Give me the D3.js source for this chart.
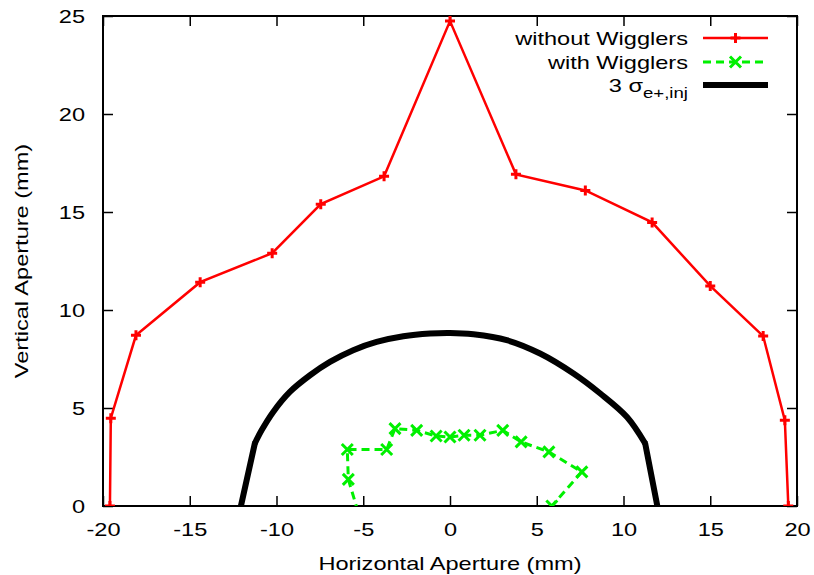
<!DOCTYPE html>
<html>
<head>
<meta charset="utf-8">
<script src="https://cdn.jsdelivr.net/npm/d3@7"></script>
<style>
  body { margin: 0; background: #fff; }
  text { font-family: "Liberation Sans", Arial, sans-serif; fill: #000; }
</style>
</head>
<body>
<svg id="chart" width="814" height="575"></svg>
<script>
// aperture without wigglers (mm)
var noWigX = [-19.6, -19.55, -18.1, -14.4, -10.25, -7.45, -3.8, 0.0, 3.8, 7.8, 11.65, 15.0, 18.05, 19.3, 19.5];
var noWigY = [0, 4.48, 8.71, 11.42, 12.9, 15.4, 16.82, 24.74, 16.92, 16.1, 14.47, 11.23, 8.67, 4.37, 0];

// aperture with wigglers (first point sits just below the axis)
var wigX = [-5.3, -5.86, -5.92, -3.65, -3.17, -1.92, -0.8, 0.0, 0.81, 1.73, 3.04, 4.1, 5.7, 7.6, 5.87];
var wigY = [-0.3, 1.36, 2.88, 2.88, 3.95, 3.86, 3.57, 3.52, 3.61, 3.61, 3.86, 3.27, 2.76, 1.74, 0];

// 3 sigma injected beam envelope
var sigX = [-12.05, -11.25, -10.86, -10.19, -9.23, -8.07, -6.92, -5.58, -4.23, -2.69, -1.15, 0, 1.35, 3.27, 5.19, 7.12, 8.66, 10.2, 11.25, 11.95];
var sigY = [0, 3.19, 3.86, 4.8, 5.82, 6.67, 7.35, 7.95, 8.37, 8.66, 8.8, 8.83, 8.76, 8.46, 7.78, 6.76, 5.74, 4.54, 3.19, 0];

var xTicks = [-20, -15, -10, -5, 0, 5, 10, 15, 20];
var yTicks = [0, 5, 10, 15, 20, 25];

var W = 814, H = 575;
var margin = {top: 16, right: 17, bottom: 69, left: 103};
var svg = d3.select("#chart");
var stretch = 1.24; // the original font is wider than Liberation Sans

var x = d3.scaleLinear().domain([-20, 20]).range([margin.left, W - margin.right]);
var y = d3.scaleLinear().domain([0, 25]).range([H - margin.bottom, margin.top]);

function zip(xs, ys) {
  return xs.map(function(v, i) { return [v, ys[i]]; });
}
function widen(sel) {
  sel.each(function() {
    var w = this.getComputedTextLength();
    d3.select(this).attr("textLength", w * stretch).attr("lengthAdjust", "spacingAndGlyphs");
  });
}

var line = d3.line().x(function(d) { return x(d[0]); }).y(function(d) { return y(d[1]); });
var smooth = d3.line().curve(d3.curveCatmullRom.alpha(0.5)).x(function(d) { return x(d[0]); }).y(function(d) { return y(d[1]); });

svg.append("clipPath").attr("id", "plotclip")
  .append("rect")
  .attr("x", margin.left).attr("y", margin.top)
  .attr("width", W - margin.left - margin.right)
  .attr("height", H - margin.top - margin.bottom);

// axes, with ticks mirrored on top and right
var tickLen = 10;
var fmt = function(d) { return String(d); };
svg.append("g").attr("transform", "translate(0," + y(0) + ")")
  .call(d3.axisBottom(x).tickValues(xTicks).tickFormat(fmt).tickSizeInner(-tickLen).tickSizeOuter(0).tickPadding(17));
svg.append("g").attr("transform", "translate(0," + y(25) + ")")
  .call(d3.axisTop(x).tickValues(xTicks).tickSizeInner(-tickLen).tickSizeOuter(0).tickFormat(""));
svg.append("g").attr("transform", "translate(" + x(-20) + ",0)")
  .call(d3.axisLeft(y).tickValues(yTicks).tickFormat(fmt).tickSizeInner(-tickLen).tickSizeOuter(0).tickPadding(18));
svg.append("g").attr("transform", "translate(" + x(20) + ",0)")
  .call(d3.axisRight(y).tickValues(yTicks).tickSizeInner(-tickLen).tickSizeOuter(0).tickFormat(""));

svg.selectAll(".domain").remove();
svg.selectAll(".tick line").attr("stroke", "#000").attr("stroke-width", 1.5);
svg.selectAll(".tick text").style("font-size", "19px").attr("fill", "#000").call(widen);

svg.append("rect")
  .attr("x", x(-20)).attr("y", y(25))
  .attr("width", x(20) - x(-20)).attr("height", y(0) - y(25))
  .attr("fill", "none").attr("stroke", "#000").attr("stroke-width", 2);

var plot = svg.append("g").attr("clip-path", "url(#plotclip)");

function plus(g, px, py, color) {
  g.append("path").attr("d", "M" + (px - 5) + "," + py + "H" + (px + 5) + "M" + px + "," + (py - 5) + "V" + (py + 5))
    .attr("stroke", color).attr("stroke-width", 3).attr("fill", "none");
}
function cross(g, px, py, color) {
  g.append("path").attr("d", "M" + (px - 5.5) + "," + (py - 5.5) + "L" + (px + 5.5) + "," + (py + 5.5) + "M" + (px - 5.5) + "," + (py + 5.5) + "L" + (px + 5.5) + "," + (py - 5.5))
    .attr("stroke", color).attr("stroke-width", 3).attr("fill", "none");
}

// 3 sigma curve: straight feet, smooth crown
var sig = zip(sigX, sigY);
var n = sig.length;
plot.append("path").datum(sig.slice(1, n - 1)).attr("d", smooth)
  .attr("fill", "none").attr("stroke", "#000").attr("stroke-width", 6).attr("stroke-linejoin", "round");
plot.append("path").datum(sig.slice(0, 2)).attr("d", line)
  .attr("fill", "none").attr("stroke", "#000").attr("stroke-width", 6).attr("stroke-linecap", "round");
plot.append("path").datum(sig.slice(n - 2)).attr("d", line)
  .attr("fill", "none").attr("stroke", "#000").attr("stroke-width", 6).attr("stroke-linecap", "round");

// without wigglers
var red = "#ff0000";
plot.append("path").datum(zip(noWigX, noWigY)).attr("d", line)
  .attr("fill", "none").attr("stroke", red).attr("stroke-width", 2.5);
zip(noWigX, noWigY).forEach(function(d) { plus(plot, x(d[0]), y(d[1]), red); });

// with wigglers
var green = "#00f000";
plot.append("path").datum(zip(wigX, wigY)).attr("d", line)
  .attr("fill", "none").attr("stroke", green).attr("stroke-width", 3).attr("stroke-dasharray", "8,5");
zip(wigX, wigY).forEach(function(d) { if (d[1] >= 0) cross(plot, x(d[0]), y(d[1]), green); });

// axis titles
svg.append("text").attr("x", (x(-20) + x(20)) / 2).attr("y", 570)
  .attr("text-anchor", "middle").style("font-size", "19px").text("Horizontal Aperture (mm)").call(widen);
svg.append("text").attr("transform", "translate(28," + ((y(0) + y(25)) / 2) + ") rotate(-90)")
  .attr("text-anchor", "middle").style("font-size", "19px").text("Vertical Aperture (mm)").call(widen);

// legend
var legend = svg.append("g");
var lx0 = 703, lx1 = 768, tx = 688;
var rows = [38, 62, 85];
legend.append("text").attr("x", tx).attr("y", rows[0] + 7).attr("text-anchor", "end").style("font-size", "19px").text("without Wigglers").call(widen);
legend.append("line").attr("x1", lx0).attr("x2", lx1).attr("y1", rows[0]).attr("y2", rows[0]).attr("stroke", red).attr("stroke-width", 2.5);
plus(legend, (lx0 + lx1) / 2, rows[0], red);

legend.append("text").attr("x", tx).attr("y", rows[1] + 7).attr("text-anchor", "end").style("font-size", "19px").text("with Wigglers").call(widen);
legend.append("line").attr("x1", lx0).attr("x2", lx1).attr("y1", rows[1]).attr("y2", rows[1]).attr("stroke", green).attr("stroke-width", 3).attr("stroke-dasharray", "8,5");
cross(legend, (lx0 + lx1) / 2, rows[1], green);

var sigText = legend.append("text").attr("x", tx).attr("y", rows[2] + 7).attr("text-anchor", "end").style("font-size", "19px");
sigText.append("tspan").text("3 \u03c3");
sigText.append("tspan").attr("dy", 6).style("font-size", "15px").text("e+,inj");
sigText.call(widen);
legend.append("line").attr("x1", lx0).attr("x2", lx1).attr("y1", rows[2]).attr("y2", rows[2]).attr("stroke", "#000").attr("stroke-width", 6);
</script>
</body>
</html>
